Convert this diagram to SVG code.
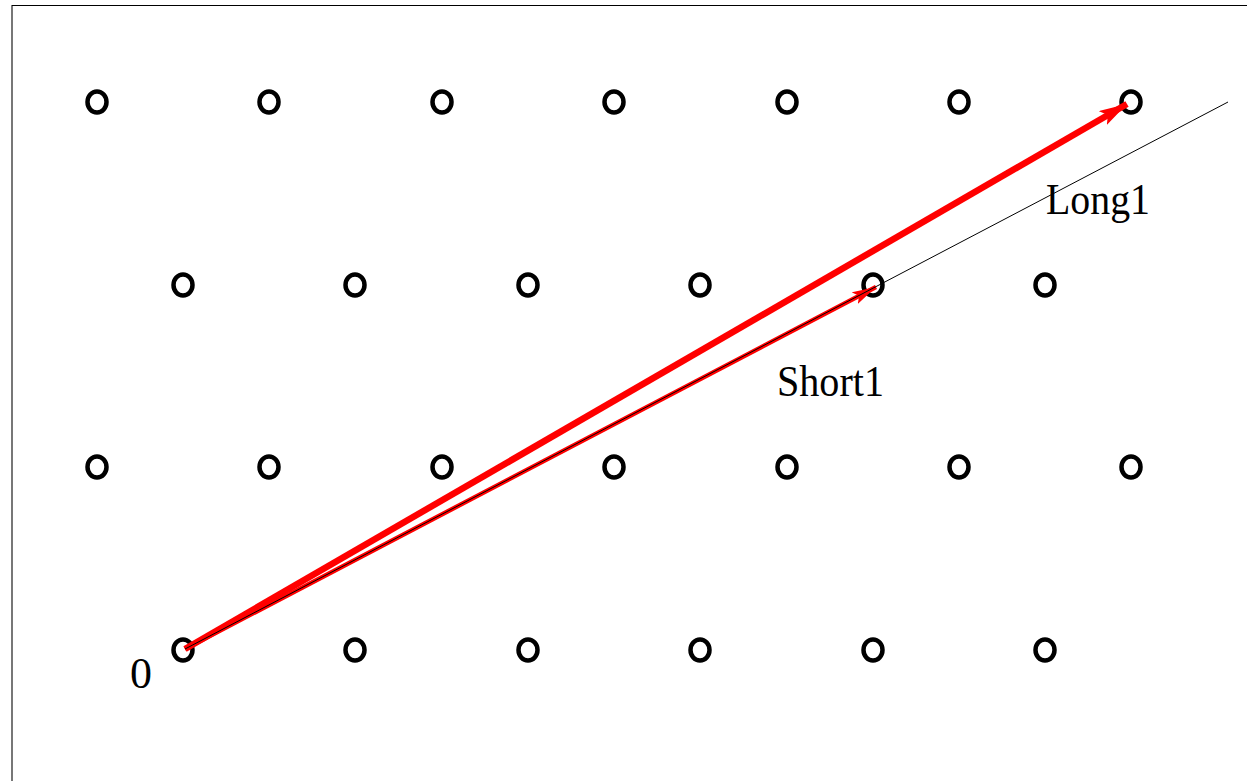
<svg xmlns="http://www.w3.org/2000/svg" width="1247" height="781" viewBox="0 0 1247 781">
<style>
.pt{fill:none;stroke:#000;stroke-width:4.5}
.lbl{font-family:"Liberation Serif","Times New Roman",serif;font-size:45px;fill:#000}
.red{stroke:#ff0000;fill:none}
</style>
<defs>
<marker id="ahL" markerUnits="userSpaceOnUse" markerWidth="32" markerHeight="18" refX="28" refY="8" orient="auto">
<path d="M0,0 L28,8 L0,16 L6,8 Z" fill="#ff0000"/>
</marker>
<marker id="ahS" markerUnits="userSpaceOnUse" markerWidth="26" markerHeight="14" refX="24" refY="6.5" orient="auto">
<path d="M0,0 L24,6.5 L0,13 L5,6.5 Z" fill="#ff0000"/>
</marker>
</defs>
<rect width="1247" height="781" fill="#fff"/>
<line x1="12" y1="5" x2="12" y2="781" stroke="#777" stroke-width="2"/>
<line x1="12" y1="5.5" x2="1247" y2="5.5" stroke="#000" stroke-width="1"/>
<g id="points">
<g id="row1">
<ellipse class="pt" cx="97" cy="102" rx="9.5" ry="10.5"/>
<ellipse class="pt" cx="269" cy="102" rx="9.5" ry="10.5"/>
<ellipse class="pt" cx="442" cy="102" rx="9.5" ry="10.5"/>
<ellipse class="pt" cx="614" cy="102" rx="9.5" ry="10.5"/>
<ellipse class="pt" cx="787" cy="102" rx="9.5" ry="10.5"/>
<ellipse class="pt" cx="959" cy="102" rx="9.5" ry="10.5"/>
<ellipse class="pt" cx="1131" cy="102" rx="9.5" ry="10.5"/>
</g>
<g id="row2">
<ellipse class="pt" cx="183" cy="285" rx="9.5" ry="10.5"/>
<ellipse class="pt" cx="355" cy="285" rx="9.5" ry="10.5"/>
<ellipse class="pt" cx="528" cy="285" rx="9.5" ry="10.5"/>
<ellipse class="pt" cx="700" cy="285" rx="9.5" ry="10.5"/>
<ellipse class="pt" cx="873" cy="285" rx="9.5" ry="10.5"/>
<ellipse class="pt" cx="1045" cy="285" rx="9.5" ry="10.5"/>
</g>
<g id="row3">
<ellipse class="pt" cx="97" cy="467" rx="9.5" ry="10.5"/>
<ellipse class="pt" cx="269" cy="467" rx="9.5" ry="10.5"/>
<ellipse class="pt" cx="442" cy="467" rx="9.5" ry="10.5"/>
<ellipse class="pt" cx="614" cy="467" rx="9.5" ry="10.5"/>
<ellipse class="pt" cx="787" cy="467" rx="9.5" ry="10.5"/>
<ellipse class="pt" cx="959" cy="467" rx="9.5" ry="10.5"/>
<ellipse class="pt" cx="1131" cy="467" rx="9.5" ry="10.5"/>
</g>
<g id="row4">
<ellipse class="pt" cx="183" cy="650" rx="9.5" ry="10.5"/>
<ellipse class="pt" cx="355" cy="650" rx="9.5" ry="10.5"/>
<ellipse class="pt" cx="528" cy="650" rx="9.5" ry="10.5"/>
<ellipse class="pt" cx="700" cy="650" rx="9.5" ry="10.5"/>
<ellipse class="pt" cx="873" cy="650" rx="9.5" ry="10.5"/>
<ellipse class="pt" cx="1045" cy="650" rx="9.5" ry="10.5"/>
</g>
</g>
<g id="connectors">
<line class="red" x1="185" y1="649" x2="1127" y2="104" stroke-width="6.5" marker-end="url(#ahL)"/>
<line class="red" x1="185" y1="649" x2="876" y2="287" stroke-width="4.5" marker-end="url(#ahS)"/>
<line x1="185" y1="649" x2="1228" y2="102" stroke="#000" stroke-width="1"/>
</g>
<g id="labels">
<text class="lbl" x="1046" y="214" textLength="104" lengthAdjust="spacingAndGlyphs">Long1</text>
<text class="lbl" x="777" y="396" textLength="107" lengthAdjust="spacingAndGlyphs">Short1</text>
<text class="lbl" x="130" y="688" textLength="22" lengthAdjust="spacingAndGlyphs">0</text>
</g>
</svg>
